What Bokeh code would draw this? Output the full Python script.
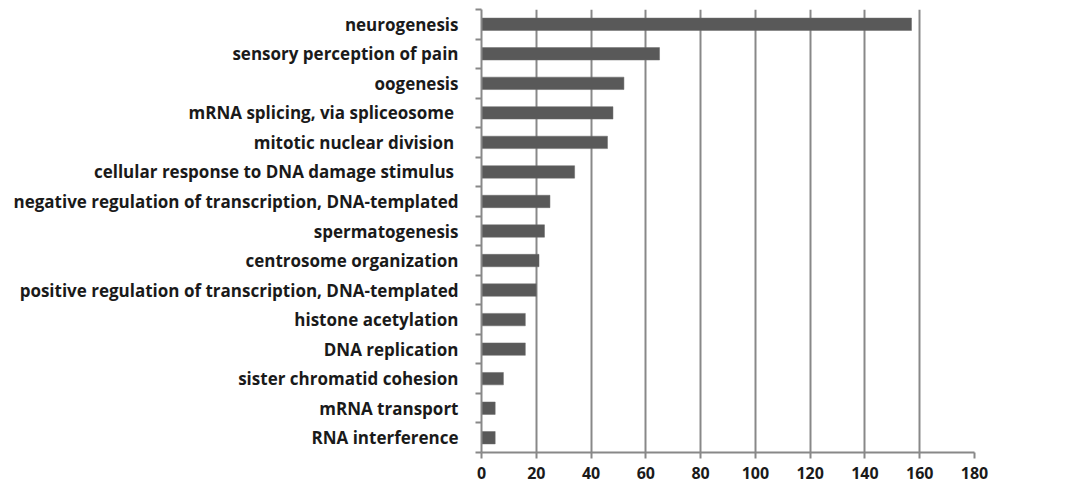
from bokeh.plotting import figure
from bokeh.models import Range1d, FixedTicker
from bokeh.embed import file_html
from bokeh.resources import INLINE

categories = [
    "neurogenesis",
    "sensory perception of pain",
    "oogenesis",
    "mRNA splicing,  via spliceosome",
    "mitotic nuclear  division",
    "cellular response to DNA damage  stimulus",
    "negative regulation of transcription, DNA-templated",
    "spermatogenesis",
    "centrosome organization",
    "positive regulation of transcription, DNA-templated",
    "histone acetylation",
    "DNA replication",
    "sister chromatid cohesion",
    "mRNA transport",
    "RNA interference",
]
values = [157, 65, 52, 48, 46, 34, 25, 23, 21, 20, 16, 16, 8, 5, 5]
x_ticks = [0, 20, 40, 60, 80, 100, 120, 140, 160, 180]

n = len(categories)
ypos = [i + 0.5 for i in range(n)]

p = figure(width=1054, height=484, output_backend="svg", toolbar_location=None,
           x_range=Range1d(0, 180), y_range=Range1d(n, 0))
p.min_border_left = 481
p.min_border_right = 80
p.min_border_top = 9
p.min_border_bottom = 32
p.outline_line_color = None
p.background_fill_color = "white"
p.border_fill_color = "white"

p.hbar(y=ypos, right=values, left=0, height=0.42, fill_color="#595959",
       line_color="#6a6a6a", line_width=0.5)

FONT = "Open Sans"
grey = "#888888"

xa = p.xaxis[0]
xa.ticker = FixedTicker(ticks=x_ticks)
xa.axis_line_color = grey
xa.axis_line_width = 2
xa.major_tick_line_color = grey
xa.major_tick_line_width = 2
xa.major_tick_out = 6
xa.major_tick_in = 0
xa.minor_tick_line_color = None
xa.major_label_standoff = 8
xa.major_label_text_font = FONT
xa.major_label_text_font_style = "bold"
xa.major_label_text_font_size = "16px"
xa.major_label_text_color = "#1a1a1a"

ya = p.yaxis[0]
ya.ticker = FixedTicker(ticks=ypos, minor_ticks=list(range(n + 1)))
ya.major_label_overrides = {y: c for y, c in zip(ypos, categories)}
ya.axis_line_color = grey
ya.axis_line_width = 2
ya.major_tick_line_color = None
ya.major_tick_out = 0
ya.major_tick_in = 0
ya.minor_tick_line_color = grey
ya.minor_tick_line_width = 2
ya.minor_tick_out = 6
ya.minor_tick_in = 0
ya.major_label_standoff = 17
ya.major_label_text_font = FONT
ya.major_label_text_font_style = "bold"
ya.major_label_text_font_size = "17px"
ya.major_label_text_color = "#1a1a1a"

p.xgrid.grid_line_color = grey
p.xgrid.grid_line_width = 2
p.xgrid.ticker = FixedTicker(ticks=x_ticks)
p.ygrid.grid_line_color = None

open("out.html", "w").write(file_html(p, INLINE))
